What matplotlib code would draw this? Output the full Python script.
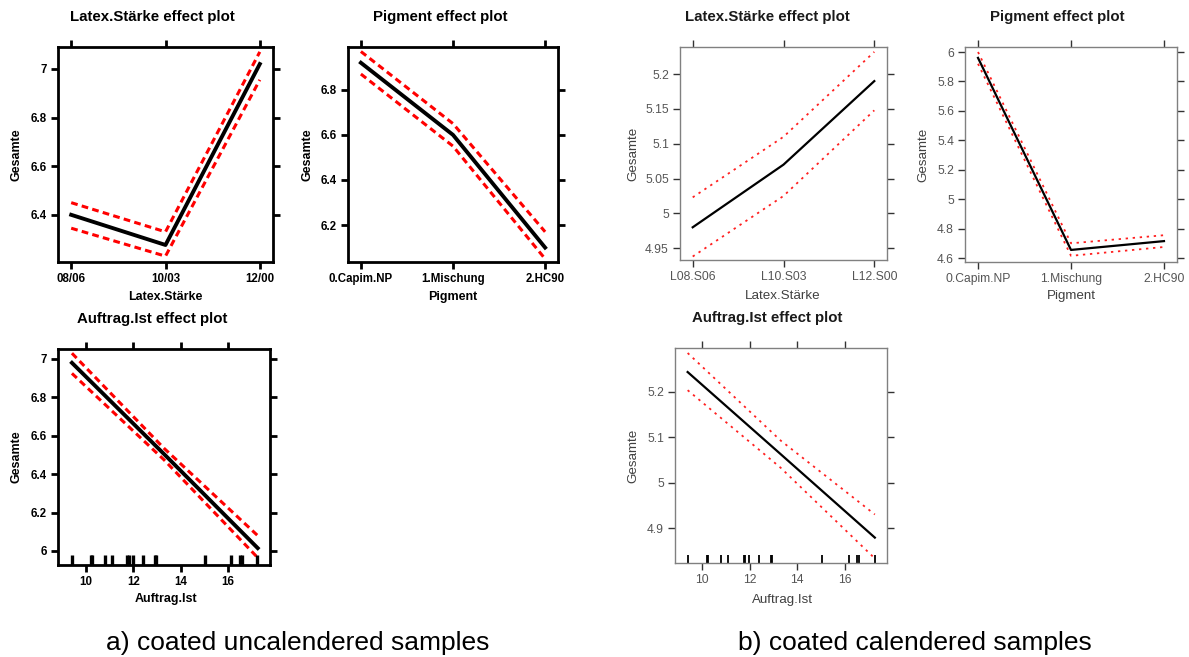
import matplotlib
matplotlib.use("Agg")
import matplotlib.pyplot as plt

W, H = 1189, 657

# ---------------- data: a) coated uncalendered ----------------
a_latex_cats = ["08/06", "10/03", "12/00"]
a_latex_fit = [6.40, 6.276, 7.02]
a_latex_up = [6.45, 6.33, 7.07]
a_latex_lo = [6.345, 6.23, 6.955]
a_latex_yticks = [6.4, 6.6, 6.8, 7.0]
a_latex_yticklabels = ["6.4", "6.6", "6.8", "7"]

a_pig_cats = ["0.Capim.NP", "1.Mischung", "2.HC90"]
a_pig_fit = [6.92, 6.60, 6.10]
a_pig_up = [6.97, 6.65, 6.17]
a_pig_lo = [6.87, 6.55, 6.05]
a_pig_yticks = [6.2, 6.4, 6.6, 6.8]
a_pig_yticklabels = ["6.2", "6.4", "6.6", "6.8"]

a_auf_x = [9.4, 13.3, 17.27]
a_auf_fit = [6.98, 6.505, 6.015]
a_auf_up = [7.03, 6.535, 6.08]
a_auf_lo = [6.925, 6.475, 5.965]
a_auf_yticks = [6.0, 6.2, 6.4, 6.6, 6.8, 7.0]
a_auf_yticklabels = ["6", "6.2", "6.4", "6.6", "6.8", "7"]

# ---------------- data: b) coated calendered ----------------
b_latex_cats = ["L08.S06", "L10.S03", "L12.S00"]
b_latex_fit = [4.98, 5.07, 5.19]
b_latex_up = [5.023, 5.11, 5.232]
b_latex_lo = [4.938, 5.025, 5.148]
b_latex_yticks = [4.95, 5.0, 5.05, 5.1, 5.15, 5.2]
b_latex_yticklabels = ["4.95", "5", "5.05", "5.1", "5.15", "5.2"]

b_pig_cats = ["0.Capim.NP", "1.Mischung", "2.HC90"]
b_pig_fit = [5.96, 4.655, 4.715]
b_pig_up = [6.00, 4.70, 4.755]
b_pig_lo = [5.92, 4.615, 4.675]
b_pig_yticks = [4.6, 4.8, 5.0, 5.2, 5.4, 5.6, 5.8, 6.0]
b_pig_yticklabels = ["4.6", "4.8", "5", "5.2", "5.4", "5.6", "5.8", "6"]

b_auf_x = [9.4, 13.3, 17.25]
b_auf_fit = [5.244, 5.063, 4.879]
b_auf_up = [5.286, 5.093, 4.93]
b_auf_lo = [5.204, 5.033, 4.833]
b_auf_yticks = [4.9, 5.0, 5.1, 5.2]
b_auf_yticklabels = ["4.9", "5", "5.1", "5.2"]

auf_xticks = [10, 12, 14, 16]
auf_xticklabels = ["10", "12", "14", "16"]
rug_x = [9.4, 10.2, 10.25, 10.8, 11.1, 11.75, 11.8, 11.97, 12.4, 12.9, 12.95,
         15.05, 16.15, 16.5, 16.6, 17.25]

captions = ["a) coated uncalendered samples", "b) coated calendered samples"]

FONT = "Liberation Sans"

fig = plt.figure(figsize=(W / 100, H / 100), dpi=100)


def add_ax(l, r, t, b):
    return fig.add_axes([l / W, 1 - b / H, (r - l) / W, (b - t) / H])


def ftext(x, y, s, **kw):
    fig.text(x / W, 1 - y / H, s, family=FONT, ha="center", va="center", **kw)


def style(ax, bold):
    if bold:
        sc, slw, tc, tlw, lc, fs, fw = "black", 2.0, "black", 2.0, "black", 8.3, "bold"
    else:
        sc, slw, tc, tlw, lc, fs, fw = "#808080", 1.0, "#333333", 1.0, "#555555", 8.7, "normal"
    for sp in ax.spines.values():
        sp.set_color(sc)
        sp.set_linewidth(slw)
    ax.tick_params(which="both", direction="out", length=5, width=tlw, color=tc,
                   top=True, right=True, labeltop=False, labelright=False,
                   labelcolor=lc, labelsize=fs, pad=3)
    for lab in ax.get_xticklabels() + ax.get_yticklabels():
        lab.set_family(FONT)
        lab.set_fontweight(fw)


def draw_panel(ax, x, fit, up, lo, bold):
    if bold:
        ax.plot(x, up, color="#ff0000", lw=2.2, dashes=(2.2, 1.4))
        ax.plot(x, lo, color="#ff0000", lw=2.2, dashes=(2.2, 1.4))
        ax.plot(x, fit, color="black", lw=2.8)
    else:
        ax.plot(x, up, color="#ff2020", lw=1.3, dashes=(1.3, 2.6))
        ax.plot(x, lo, color="#ff2020", lw=1.3, dashes=(1.3, 2.6))
        ax.plot(x, fit, color="black", lw=1.6)


def cat_panel(rect, cats, fit, up, lo, yticks, ylabels, ylim, bold):
    ax = add_ax(*rect)
    xs = list(range(len(cats)))
    draw_panel(ax, xs, fit, up, lo, bold)
    ax.set_xlim(-0.14, 2.14)
    ax.set_ylim(*ylim)
    ax.set_xticks(xs)
    ax.set_xticklabels(cats)
    ax.set_yticks(yticks)
    ax.set_yticklabels(ylabels)
    style(ax, bold)
    return ax


def num_panel(rect, x, fit, up, lo, yticks, ylabels, xlim, ylim, bold):
    ax = add_ax(*rect)
    draw_panel(ax, x, fit, up, lo, bold)
    ax.vlines(rug_x, 0, 0.045 if bold else 0.035, transform=ax.get_xaxis_transform(),
              color="black", lw=2.4 if bold else 1.3)
    ax.set_xlim(*xlim)
    ax.set_ylim(*ylim)
    ax.set_xticks(auf_xticks)
    ax.set_xticklabels(auf_xticklabels)
    ax.set_yticks(yticks)
    ax.set_yticklabels(ylabels)
    style(ax, bold)
    return ax


# ---- a) panels ----
cat_panel((58, 273, 47, 262), a_latex_cats, a_latex_fit, a_latex_up, a_latex_lo,
          a_latex_yticks, a_latex_yticklabels, (6.206, 7.09), True)
cat_panel((348, 558, 47, 262), a_pig_cats, a_pig_fit, a_pig_up, a_pig_lo,
          a_pig_yticks, a_pig_yticklabels, (6.036, 6.99), True)
num_panel((58, 270, 349, 565), a_auf_x, a_auf_fit, a_auf_up, a_auf_lo,
          a_auf_yticks, a_auf_yticklabels, (8.81, 17.79), (5.927, 7.052), True)

# ---- b) panels ----
cat_panel((680, 887, 47, 260), b_latex_cats, b_latex_fit, b_latex_up, b_latex_lo,
          b_latex_yticks, b_latex_yticklabels, (4.933, 5.239), False)
cat_panel((965, 1177, 47, 262), b_pig_cats, b_pig_fit, b_pig_up, b_pig_lo,
          b_pig_yticks, b_pig_yticklabels, (4.573, 6.034), False)
num_panel((675, 887, 348, 563), b_auf_x, b_auf_fit, b_auf_up, b_auf_lo,
          b_auf_yticks, b_auf_yticklabels, (8.87, 17.76), (4.823, 5.297), False)

# ---- titles and axis labels ----
ta = dict(fontsize=10.8, fontweight="bold", color="black")
tb = dict(fontsize=10.8, fontweight="bold", color="#1a1a1a")
ftext(152, 17, "Latex.Stärke effect plot", **ta)
ftext(440, 17, "Pigment effect plot", **ta)
ftext(152, 319, "Auftrag.Ist effect plot", **ta)
ftext(767, 17, "Latex.Stärke effect plot", **tb)
ftext(1057, 17, "Pigment effect plot", **tb)
ftext(767, 318, "Auftrag.Ist effect plot", **tb)

la = dict(fontsize=9, fontweight="bold", color="black")
lb = dict(fontsize=9.6, color="#404040")
ftext(165, 297, "Latex.Stärke", **la)
ftext(453, 297, "Pigment", **la)
ftext(166, 599, "Auftrag.Ist", **la)
ftext(17, 155, "Gesamte", rotation=90, **la)
ftext(307, 155, "Gesamte", rotation=90, **la)
ftext(17, 457, "Gesamte", rotation=90, **la)

ftext(783, 296, "Latex.Stärke", **lb)
ftext(1071, 296, "Pigment", **lb)
ftext(782, 600, "Auftrag.Ist", **lb)
ftext(633, 154, "Gesamte", rotation=90, **lb)
ftext(923, 155, "Gesamte", rotation=90, **lb)
ftext(633, 456, "Gesamte", rotation=90, **lb)

ftext(298, 643, captions[0], fontsize=19, color="black")
ftext(915, 643, captions[1], fontsize=19, color="black")

fig.savefig("out.png", dpi=100)
